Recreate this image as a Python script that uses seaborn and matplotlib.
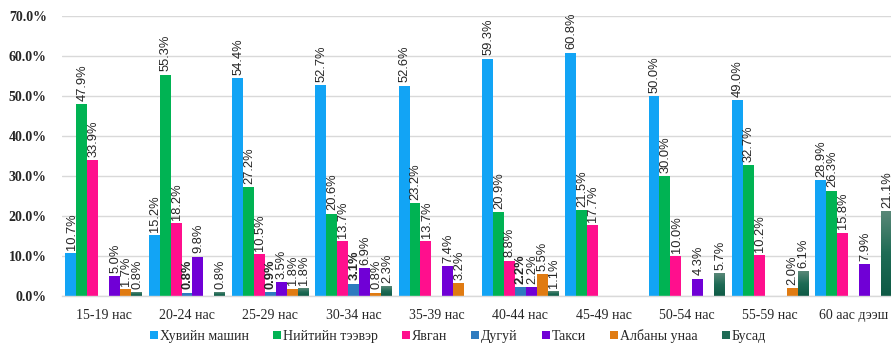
import numpy as np
import pandas as pd
import matplotlib
matplotlib.use("Agg")
import matplotlib.pyplot as plt
from matplotlib.colors import LinearSegmentedColormap
from matplotlib.lines import Line2D
import seaborn as sns

# Age groups and travel-mode shares (%); NaN = no respondents in that cell
age_groups = ["15-19 нас", "20-24 нас", "25-29 нас", "30-34 нас", "35-39 нас",
              "40-44 нас", "45-49 нас", "50-54 нас", "55-59 нас", "60 аас дээш"]
modes = ["Хувийн машин", "Нийтийн тээвэр", "Явган", "Дугуй", "Такси",
         "Албаны унаа", "Бусад"]

private_car = [10.7, 15.2, 54.4, 52.7, 52.6, 59.3, 60.8, 50.0, 49.0, 28.9]
public_transport = [47.9, 55.3, 27.2, 20.6, 23.2, 20.9, 21.5, 30.0, 32.7, 26.3]
walking = [33.9, 18.2, 10.5, 13.7, 13.7, 8.8, 17.7, 10.0, 10.2, 15.8]
bicycle = [np.nan, 0.8, 0.9, 3.1, np.nan, 2.2, np.nan, np.nan, np.nan, np.nan]
taxi = [5.0, 9.8, 3.5, 6.9, 7.4, 2.2, np.nan, 4.3, np.nan, 7.9]
official_car = [1.7, np.nan, 1.8, 0.8, 3.2, 5.5, np.nan, np.nan, 2.0, np.nan]
other = [0.8, 0.8, 1.8, 2.3, np.nan, 1.1, np.nan, 5.7, 6.1, 21.1]

y_ticks = [0, 10, 20, 30, 40, 50, 60, 70]

series = [private_car, public_transport, walking, bicycle, taxi, official_car, other]
colors = ["#12A4F5", "#00B353", "#FF0F8D", "#2E7BBF", "#7000D6", "#E07B12", "#1E6B55"]

rows = []
for mode, vals in zip(modes, series):
    for grp, v in zip(age_groups, vals):
        rows.append({"age": grp, "mode": mode, "share": v})
df = pd.DataFrame(rows).dropna()

sns.set_theme(style="white")
plt.rcParams["font.family"] = ["Liberation Serif", "DejaVu Serif"]

fig = plt.figure(figsize=(8.91, 3.46), dpi=100)
ax = fig.add_axes([0.0696, 0.1445, 0.935, 0.8093])

sns.barplot(data=df, x="age", y="share", hue="mode", order=age_groups,
            hue_order=modes, palette=colors, width=0.92, errorbar=None,
            saturation=1, linewidth=0, ax=ax, legend=False)

# Value labels above each bar (bicycle shares in bold)
for mode, container in zip([m for m in modes if m in df["mode"].unique()], ax.containers):
    for bar in container:
        h = bar.get_height()
        if not np.isfinite(h):
            continue
        ax.annotate(f"{h:.1f}%", (bar.get_x() + bar.get_width() / 2, h),
                    xytext=(0.5, 2.5), textcoords="offset points",
                    rotation=90, ha="center", va="bottom",
                    fontsize=9.3, family=["Liberation Sans", "DejaVu Sans"],
                    color="#262626",
                    fontweight="bold" if mode == "Дугуй" else "normal")

# Vertical gradient fill for the "Бусад" bars
other_idx = modes.index("Бусад")
grad = LinearSegmentedColormap.from_list("other_grad", ["#0E5A45", "#1E6B55", "#5A8878"])
gradient = np.linspace(0, 1, 256).reshape(-1, 1)
for bar in ax.containers[other_idx]:
    h = bar.get_height()
    if not np.isfinite(h) or h <= 0:
        continue
    x0 = bar.get_x()
    w = bar.get_width()
    ax.imshow(gradient, cmap=grad, origin="lower", aspect="auto",
              extent=(x0, x0 + w, 0, h), zorder=bar.get_zorder() + 0.1)
    bar.set_visible(False)

ax.set_xlim(-0.5, len(age_groups) - 0.5)
ax.set_ylim(0, 70)
ax.set_yticks(y_ticks)
ax.set_yticklabels([f"{t:.1f}%" for t in y_ticks], fontsize=10, fontweight="bold",
                   color="#262626")
ax.set_xticks(range(len(age_groups)))
ax.set_xticklabels(age_groups, fontsize=10, color="#262626")
ax.set_xticks(np.arange(-0.5, len(age_groups), 1), minor=True)
ax.tick_params(axis="x", which="major", length=0, pad=9)
ax.tick_params(axis="x", which="minor", length=4, color="#D9D9D9", width=1)
ax.tick_params(axis="y", length=0, pad=11)
ax.set_xlabel("")
ax.set_ylabel("")

ax.yaxis.grid(True, color="#D9D9D9", linewidth=1)
ax.set_axisbelow(True)
for side in ["left", "right", "top"]:
    ax.spines[side].set_visible(False)
ax.spines["bottom"].set_color("#D9D9D9")
ax.spines["bottom"].set_linewidth(1)

handles = [Line2D([0], [0], marker="s", linestyle="none", markersize=6,
                  markerfacecolor=c, markeredgewidth=0) for c in colors]
fig.legend(handles, modes, loc="center", bbox_to_anchor=(0.513, 0.03), ncol=7,
           frameon=False, fontsize=10, handletextpad=0.05, columnspacing=1.6,
           handlelength=0.8)

fig.savefig("out.png", dpi=100)
